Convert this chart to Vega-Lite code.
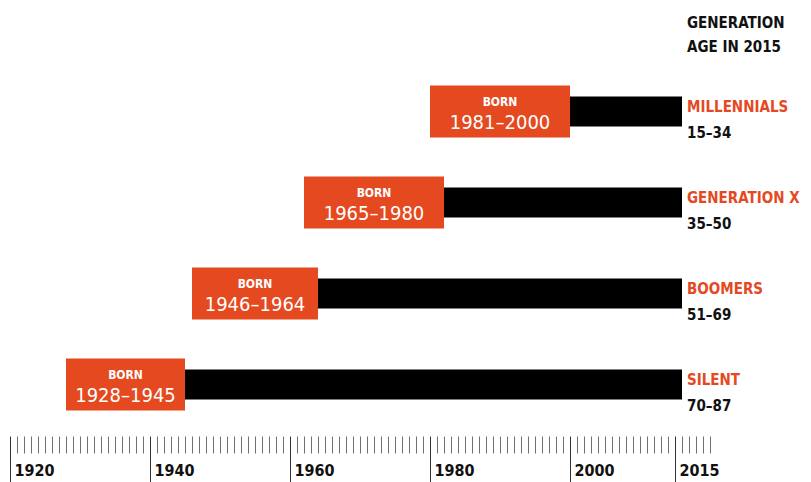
{
  "$schema": "https://vega.github.io/schema/vega-lite/v6.json",
  "width": 700,
  "height": 364,
  "autosize": {"type": "none"},
  "padding": {"left": 10, "right": 101, "top": 66, "bottom": 52},
  "background": "white",
  "title": {
    "text": ["GENERATION", "AGE IN 2015"],
    "anchor": "end",
    "frame": "group",
    "align": "left",
    "dx": -23,
    "offset": -1,
    "baseline": "alphabetic",
    "lineHeight": 24,
    "font": "DejaVu Sans Condensed",
    "fontSize": 15,
    "fontWeight": "bold",
    "color": "#111111"
  },
  "config": {"view": {"stroke": null}},
  "data": {
    "values": [
      {"generation": "MILLENNIALS", "born": "1981–2000", "box_from": 1980, "box_to": 2000, "bar_end": 2016, "age": "15–34"},
      {"generation": "GENERATION X", "born": "1965–1980", "box_from": 1962, "box_to": 1982, "bar_end": 2016, "age": "35–50"},
      {"generation": "BOOMERS", "born": "1946–1964", "box_from": 1946, "box_to": 1964, "bar_end": 2016, "age": "51–69"},
      {"generation": "SILENT", "born": "1928–1945", "box_from": 1928, "box_to": 1945, "bar_end": 2016, "age": "70–87"}
    ]
  },
  "transform": [{"calculate": "(datum.box_from + datum.box_to) / 2", "as": "box_mid"}],
  "encoding": {
    "y": {"field": "generation", "type": "nominal", "sort": null, "axis": null,
          "scale": {"paddingInner": 0, "paddingOuter": 0}}
  },
  "layer": [
    {
      "mark": {"type": "bar", "color": "#000000", "size": 30},
      "encoding": {
        "x": {"field": "box_to", "type": "quantitative", "title": null,
              "scale": {"domain": [1920, 2020], "nice": false, "zero": false},
              "axis": {
                "orient": "bottom", "offset": 6, "domain": false, "grid": false,
                "values": [1920,1921,1922,1923,1924,1925,1926,1927,1928,1929,1930,1931,1932,1933,1934,1935,1936,1937,1938,1939,1940,1941,1942,1943,1944,1945,1946,1947,1948,1949,1950,1951,1952,1953,1954,1955,1956,1957,1958,1959,1960,1961,1962,1963,1964,1965,1966,1967,1968,1969,1970,1971,1972,1973,1974,1975,1976,1977,1978,1979,1980,1981,1982,1983,1984,1985,1986,1987,1988,1989,1990,1991,1992,1993,1994,1995,1996,1997,1998,1999,2000,2001,2002,2003,2004,2005,2006,2007,2008,2009,2010,2011,2012,2013,2014,2015,2016,2017,2018,2019,2020],
                "tickSize": 46,
                "tickDash": {"condition": {"test": "indexof([1920,1940,1960,1980,2000,2015], datum.value) >= 0", "value": [46, 0]}, "value": [17, 40]},
                "tickColor": {"condition": {"test": "indexof([1920,1940,1960,1980,2000,2015], datum.value) >= 0", "value": "#333333"}, "value": "#707070"},
                "tickWidth": 1,
                "labelExpr": "indexof([1920,1940,1960,1980,2000,2015], datum.value) >= 0 ? format(datum.value, 'd') : ''",
                "labelAlign": "left", "labelBaseline": "alphabetic", "labelPadding": -7, "labelOffset": 4,
                "labelOverlap": false, "labelFlush": false, "labelBound": false,
                "labelFont": "DejaVu Sans Condensed", "labelFontSize": 16, "labelFontWeight": "bold", "labelColor": "#111111"
              }},
        "x2": {"field": "bar_end"}
      }
    },
    {
      "mark": {"type": "bar", "color": "#E5491F", "size": 52},
      "encoding": {
        "x": {"field": "box_from", "type": "quantitative", "title": null,
              "axis": {
                "orient": "bottom", "offset": 6, "domain": false, "grid": false,
                "values": [1920,1921,1922,1923,1924,1925,1926,1927,1928,1929,1930,1931,1932,1933,1934,1935,1936,1937,1938,1939,1940,1941,1942,1943,1944,1945,1946,1947,1948,1949,1950,1951,1952,1953,1954,1955,1956,1957,1958,1959,1960,1961,1962,1963,1964,1965,1966,1967,1968,1969,1970,1971,1972,1973,1974,1975,1976,1977,1978,1979,1980,1981,1982,1983,1984,1985,1986,1987,1988,1989,1990,1991,1992,1993,1994,1995,1996,1997,1998,1999,2000,2001,2002,2003,2004,2005,2006,2007,2008,2009,2010,2011,2012,2013,2014,2015,2016,2017,2018,2019,2020],
                "tickSize": 46,
                "tickDash": {"condition": {"test": "indexof([1920,1940,1960,1980,2000,2015], datum.value) >= 0", "value": [46, 0]}, "value": [17, 40]},
                "tickColor": {"condition": {"test": "indexof([1920,1940,1960,1980,2000,2015], datum.value) >= 0", "value": "#333333"}, "value": "#707070"},
                "tickWidth": 1,
                "labelExpr": "indexof([1920,1940,1960,1980,2000,2015], datum.value) >= 0 ? format(datum.value, 'd') : ''",
                "labelAlign": "left", "labelBaseline": "alphabetic", "labelPadding": -7, "labelOffset": 4,
                "labelOverlap": false, "labelFlush": false, "labelBound": false,
                "labelFont": "DejaVu Sans Condensed", "labelFontSize": 16, "labelFontWeight": "bold", "labelColor": "#111111"
              }},
        "x2": {"field": "box_to"}
      }
    },
    {
      "mark": {"type": "text", "color": "white", "fontSize": 12, "fontWeight": "bold", "baseline": "alphabetic", "dy": -6,
               "font": "DejaVu Sans Condensed"},
      "encoding": {
        "x": {"field": "box_mid", "type": "quantitative", "title": null,
              "axis": {
                "orient": "bottom", "offset": 6, "domain": false, "grid": false,
                "values": [1920,1921,1922,1923,1924,1925,1926,1927,1928,1929,1930,1931,1932,1933,1934,1935,1936,1937,1938,1939,1940,1941,1942,1943,1944,1945,1946,1947,1948,1949,1950,1951,1952,1953,1954,1955,1956,1957,1958,1959,1960,1961,1962,1963,1964,1965,1966,1967,1968,1969,1970,1971,1972,1973,1974,1975,1976,1977,1978,1979,1980,1981,1982,1983,1984,1985,1986,1987,1988,1989,1990,1991,1992,1993,1994,1995,1996,1997,1998,1999,2000,2001,2002,2003,2004,2005,2006,2007,2008,2009,2010,2011,2012,2013,2014,2015,2016,2017,2018,2019,2020],
                "tickSize": 46,
                "tickDash": {"condition": {"test": "indexof([1920,1940,1960,1980,2000,2015], datum.value) >= 0", "value": [46, 0]}, "value": [17, 40]},
                "tickColor": {"condition": {"test": "indexof([1920,1940,1960,1980,2000,2015], datum.value) >= 0", "value": "#333333"}, "value": "#707070"},
                "tickWidth": 1,
                "labelExpr": "indexof([1920,1940,1960,1980,2000,2015], datum.value) >= 0 ? format(datum.value, 'd') : ''",
                "labelAlign": "left", "labelBaseline": "alphabetic", "labelPadding": -7, "labelOffset": 4,
                "labelOverlap": false, "labelFlush": false, "labelBound": false,
                "labelFont": "DejaVu Sans Condensed", "labelFontSize": 16, "labelFontWeight": "bold", "labelColor": "#111111"
              }},
        "text": {"value": "BORN"}
      }
    },
    {
      "mark": {"type": "text", "color": "white", "fontSize": 20, "fontWeight": "normal", "baseline": "alphabetic", "dy": 17,
               "font": "DejaVu Sans Condensed"},
      "encoding": {
        "x": {"field": "box_mid", "type": "quantitative", "title": null,
              "axis": {
                "orient": "bottom", "offset": 6, "domain": false, "grid": false,
                "values": [1920,1921,1922,1923,1924,1925,1926,1927,1928,1929,1930,1931,1932,1933,1934,1935,1936,1937,1938,1939,1940,1941,1942,1943,1944,1945,1946,1947,1948,1949,1950,1951,1952,1953,1954,1955,1956,1957,1958,1959,1960,1961,1962,1963,1964,1965,1966,1967,1968,1969,1970,1971,1972,1973,1974,1975,1976,1977,1978,1979,1980,1981,1982,1983,1984,1985,1986,1987,1988,1989,1990,1991,1992,1993,1994,1995,1996,1997,1998,1999,2000,2001,2002,2003,2004,2005,2006,2007,2008,2009,2010,2011,2012,2013,2014,2015,2016,2017,2018,2019,2020],
                "tickSize": 46,
                "tickDash": {"condition": {"test": "indexof([1920,1940,1960,1980,2000,2015], datum.value) >= 0", "value": [46, 0]}, "value": [17, 40]},
                "tickColor": {"condition": {"test": "indexof([1920,1940,1960,1980,2000,2015], datum.value) >= 0", "value": "#333333"}, "value": "#707070"},
                "tickWidth": 1,
                "labelExpr": "indexof([1920,1940,1960,1980,2000,2015], datum.value) >= 0 ? format(datum.value, 'd') : ''",
                "labelAlign": "left", "labelBaseline": "alphabetic", "labelPadding": -7, "labelOffset": 4,
                "labelOverlap": false, "labelFlush": false, "labelBound": false,
                "labelFont": "DejaVu Sans Condensed", "labelFontSize": 16, "labelFontWeight": "bold", "labelColor": "#111111"
              }},
        "text": {"field": "born"}
      }
    },
    {
      "mark": {"type": "text", "color": "#E5491F", "fontSize": 15, "fontWeight": "bold", "baseline": "alphabetic", "align": "left", "dx": 5, "dy": 0,
               "font": "DejaVu Sans Condensed"},
      "encoding": {
        "x": {"field": "bar_end", "type": "quantitative", "title": null,
              "axis": {
                "orient": "bottom", "offset": 6, "domain": false, "grid": false,
                "values": [1920,1921,1922,1923,1924,1925,1926,1927,1928,1929,1930,1931,1932,1933,1934,1935,1936,1937,1938,1939,1940,1941,1942,1943,1944,1945,1946,1947,1948,1949,1950,1951,1952,1953,1954,1955,1956,1957,1958,1959,1960,1961,1962,1963,1964,1965,1966,1967,1968,1969,1970,1971,1972,1973,1974,1975,1976,1977,1978,1979,1980,1981,1982,1983,1984,1985,1986,1987,1988,1989,1990,1991,1992,1993,1994,1995,1996,1997,1998,1999,2000,2001,2002,2003,2004,2005,2006,2007,2008,2009,2010,2011,2012,2013,2014,2015,2016,2017,2018,2019,2020],
                "tickSize": 46,
                "tickDash": {"condition": {"test": "indexof([1920,1940,1960,1980,2000,2015], datum.value) >= 0", "value": [46, 0]}, "value": [17, 40]},
                "tickColor": {"condition": {"test": "indexof([1920,1940,1960,1980,2000,2015], datum.value) >= 0", "value": "#333333"}, "value": "#707070"},
                "tickWidth": 1,
                "labelExpr": "indexof([1920,1940,1960,1980,2000,2015], datum.value) >= 0 ? format(datum.value, 'd') : ''",
                "labelAlign": "left", "labelBaseline": "alphabetic", "labelPadding": -7, "labelOffset": 4,
                "labelOverlap": false, "labelFlush": false, "labelBound": false,
                "labelFont": "DejaVu Sans Condensed", "labelFontSize": 16, "labelFontWeight": "bold", "labelColor": "#111111"
              }},
        "text": {"field": "generation"}
      }
    },
    {
      "mark": {"type": "text", "color": "#111111", "fontSize": 15, "fontWeight": "bold", "baseline": "alphabetic", "align": "left", "dx": 5, "dy": 26,
               "font": "DejaVu Sans Condensed"},
      "encoding": {
        "x": {"field": "bar_end", "type": "quantitative", "title": null,
              "axis": {
                "orient": "bottom", "offset": 6, "domain": false, "grid": false,
                "values": [1920,1921,1922,1923,1924,1925,1926,1927,1928,1929,1930,1931,1932,1933,1934,1935,1936,1937,1938,1939,1940,1941,1942,1943,1944,1945,1946,1947,1948,1949,1950,1951,1952,1953,1954,1955,1956,1957,1958,1959,1960,1961,1962,1963,1964,1965,1966,1967,1968,1969,1970,1971,1972,1973,1974,1975,1976,1977,1978,1979,1980,1981,1982,1983,1984,1985,1986,1987,1988,1989,1990,1991,1992,1993,1994,1995,1996,1997,1998,1999,2000,2001,2002,2003,2004,2005,2006,2007,2008,2009,2010,2011,2012,2013,2014,2015,2016,2017,2018,2019,2020],
                "tickSize": 46,
                "tickDash": {"condition": {"test": "indexof([1920,1940,1960,1980,2000,2015], datum.value) >= 0", "value": [46, 0]}, "value": [17, 40]},
                "tickColor": {"condition": {"test": "indexof([1920,1940,1960,1980,2000,2015], datum.value) >= 0", "value": "#333333"}, "value": "#707070"},
                "tickWidth": 1,
                "labelExpr": "indexof([1920,1940,1960,1980,2000,2015], datum.value) >= 0 ? format(datum.value, 'd') : ''",
                "labelAlign": "left", "labelBaseline": "alphabetic", "labelPadding": -7, "labelOffset": 4,
                "labelOverlap": false, "labelFlush": false, "labelBound": false,
                "labelFont": "DejaVu Sans Condensed", "labelFontSize": 16, "labelFontWeight": "bold", "labelColor": "#111111"
              }},
        "text": {"field": "age"}
      }
    }
  ]
}
